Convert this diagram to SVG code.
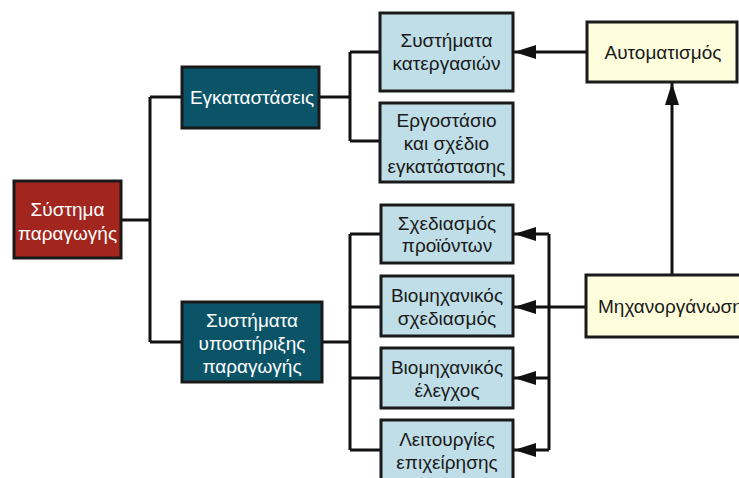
<svg xmlns="http://www.w3.org/2000/svg" width="739" height="478" viewBox="0 0 739 478">
<defs>
<marker id="arr" viewBox="0 0 22 14" refX="22" refY="7" markerWidth="22" markerHeight="14" markerUnits="userSpaceOnUse" orient="auto">
<path d="M0,0 L22,7 L0,14 Z" fill="#111"/>
</marker>
<style>
.box{stroke:#1a1a1a;stroke-width:3}
.red{fill:#a3261e}
.teal{fill:#0b5468}
.blue{fill:#bfdee7}
.yel{fill:#fefddc}
text{font-family:"Liberation Sans",Arial,sans-serif;font-size:19px;text-anchor:middle}
.w{fill:#ffffff}
.d{fill:#1a1a1a}
.ln{fill:none;stroke:#111;stroke-width:3}
</style>
</defs>
<rect width="739" height="478" fill="#ffffff"/>
<g id="connectors">
<path class="ln" d="M121,220 H150 M150,97 V342 M150,97 H182 M150,342 H182"/>
<path class="ln" d="M319,97 H350 M350,52 V141 M350,52 H380 M350,141 H380"/>
<path class="ln" d="M322,342 H350 M350,234 V450 M350,234 H381 M350,307 H381 M350,378 H381 M350,450 H381"/>
<path class="ln" d="M587,52 H514" marker-end="url(#arr)"/>
<path class="ln" d="M672,275 V83" marker-end="url(#arr)"/>
<path class="ln" d="M586,307 H549 M549,234 V450"/>
<path class="ln" d="M549,234 H514" marker-end="url(#arr)"/>
<path class="ln" d="M549,307 H514" marker-end="url(#arr)"/>
<path class="ln" d="M549,378 H514" marker-end="url(#arr)"/>
<path class="ln" d="M549,450 H514" marker-end="url(#arr)"/>
</g>
<g id="systima">
<rect class="box red" x="14" y="181" width="107" height="77"/>
<text class="w" x="67.5" y="216">Σύστημα</text>
<text class="w" x="67.5" y="240">παραγωγής</text>
</g>
<g id="egkatastaseis">
<rect class="box teal" x="182" y="67" width="137" height="61"/>
<text class="w" x="252" y="104">Εγκαταστάσεις</text>
</g>
<g id="ypostirixi">
<rect class="box teal" x="182" y="302" width="140" height="80"/>
<text class="w" x="252" y="327">Συστήματα</text>
<text class="w" x="252" y="350">υποστήριξης</text>
<text class="w" x="252" y="373">παραγωγής</text>
</g>
<g id="kategasion">
<rect class="box blue" x="380" y="13" width="133" height="78"/>
<text class="d" x="446.5" y="47">Συστήματα</text>
<text class="d" x="446.5" y="70">κατεργασιών</text>
</g>
<g id="ergostasio">
<rect class="box blue" x="380" y="103" width="133" height="79"/>
<text class="d" x="446.5" y="127">Εργοστάσιο</text>
<text class="d" x="446.5" y="150">και σχέδιο</text>
<text class="d" x="446.5" y="173">εγκατάστασης</text>
</g>
<g id="schediasmos">
<rect class="box blue" x="381" y="205" width="132" height="58"/>
<text class="d" x="447" y="230">Σχεδιασμός</text>
<text class="d" x="447" y="252">προϊόντων</text>
</g>
<g id="viom-schediasmos">
<rect class="box blue" x="381" y="276" width="132" height="60"/>
<text class="d" x="447" y="302">Βιομηχανικός</text>
<text class="d" x="447" y="325">σχεδιασμός</text>
</g>
<g id="viom-elegxos">
<rect class="box blue" x="381" y="348" width="132" height="60"/>
<text class="d" x="447" y="374">Βιομηχανικός</text>
<text class="d" x="447" y="397">έλεγχος</text>
</g>
<g id="leitourgies">
<rect class="box blue" x="381" y="420" width="132" height="62"/>
<text class="d" x="447" y="446">Λειτουργίες</text>
<text class="d" x="447" y="469">επιχείρησης</text>
</g>
<g id="automatismos">
<rect class="box yel" x="587" y="22" width="150" height="60"/>
<text class="d" x="663" y="59">Αυτοματισμός</text>
</g>
<g id="michanorganosi">
<rect class="box yel" x="586" y="275" width="170" height="62"/>
<text class="d" x="598" y="313" style="text-anchor:start">Μηχανοργάνωση</text>
</g>
</svg>
